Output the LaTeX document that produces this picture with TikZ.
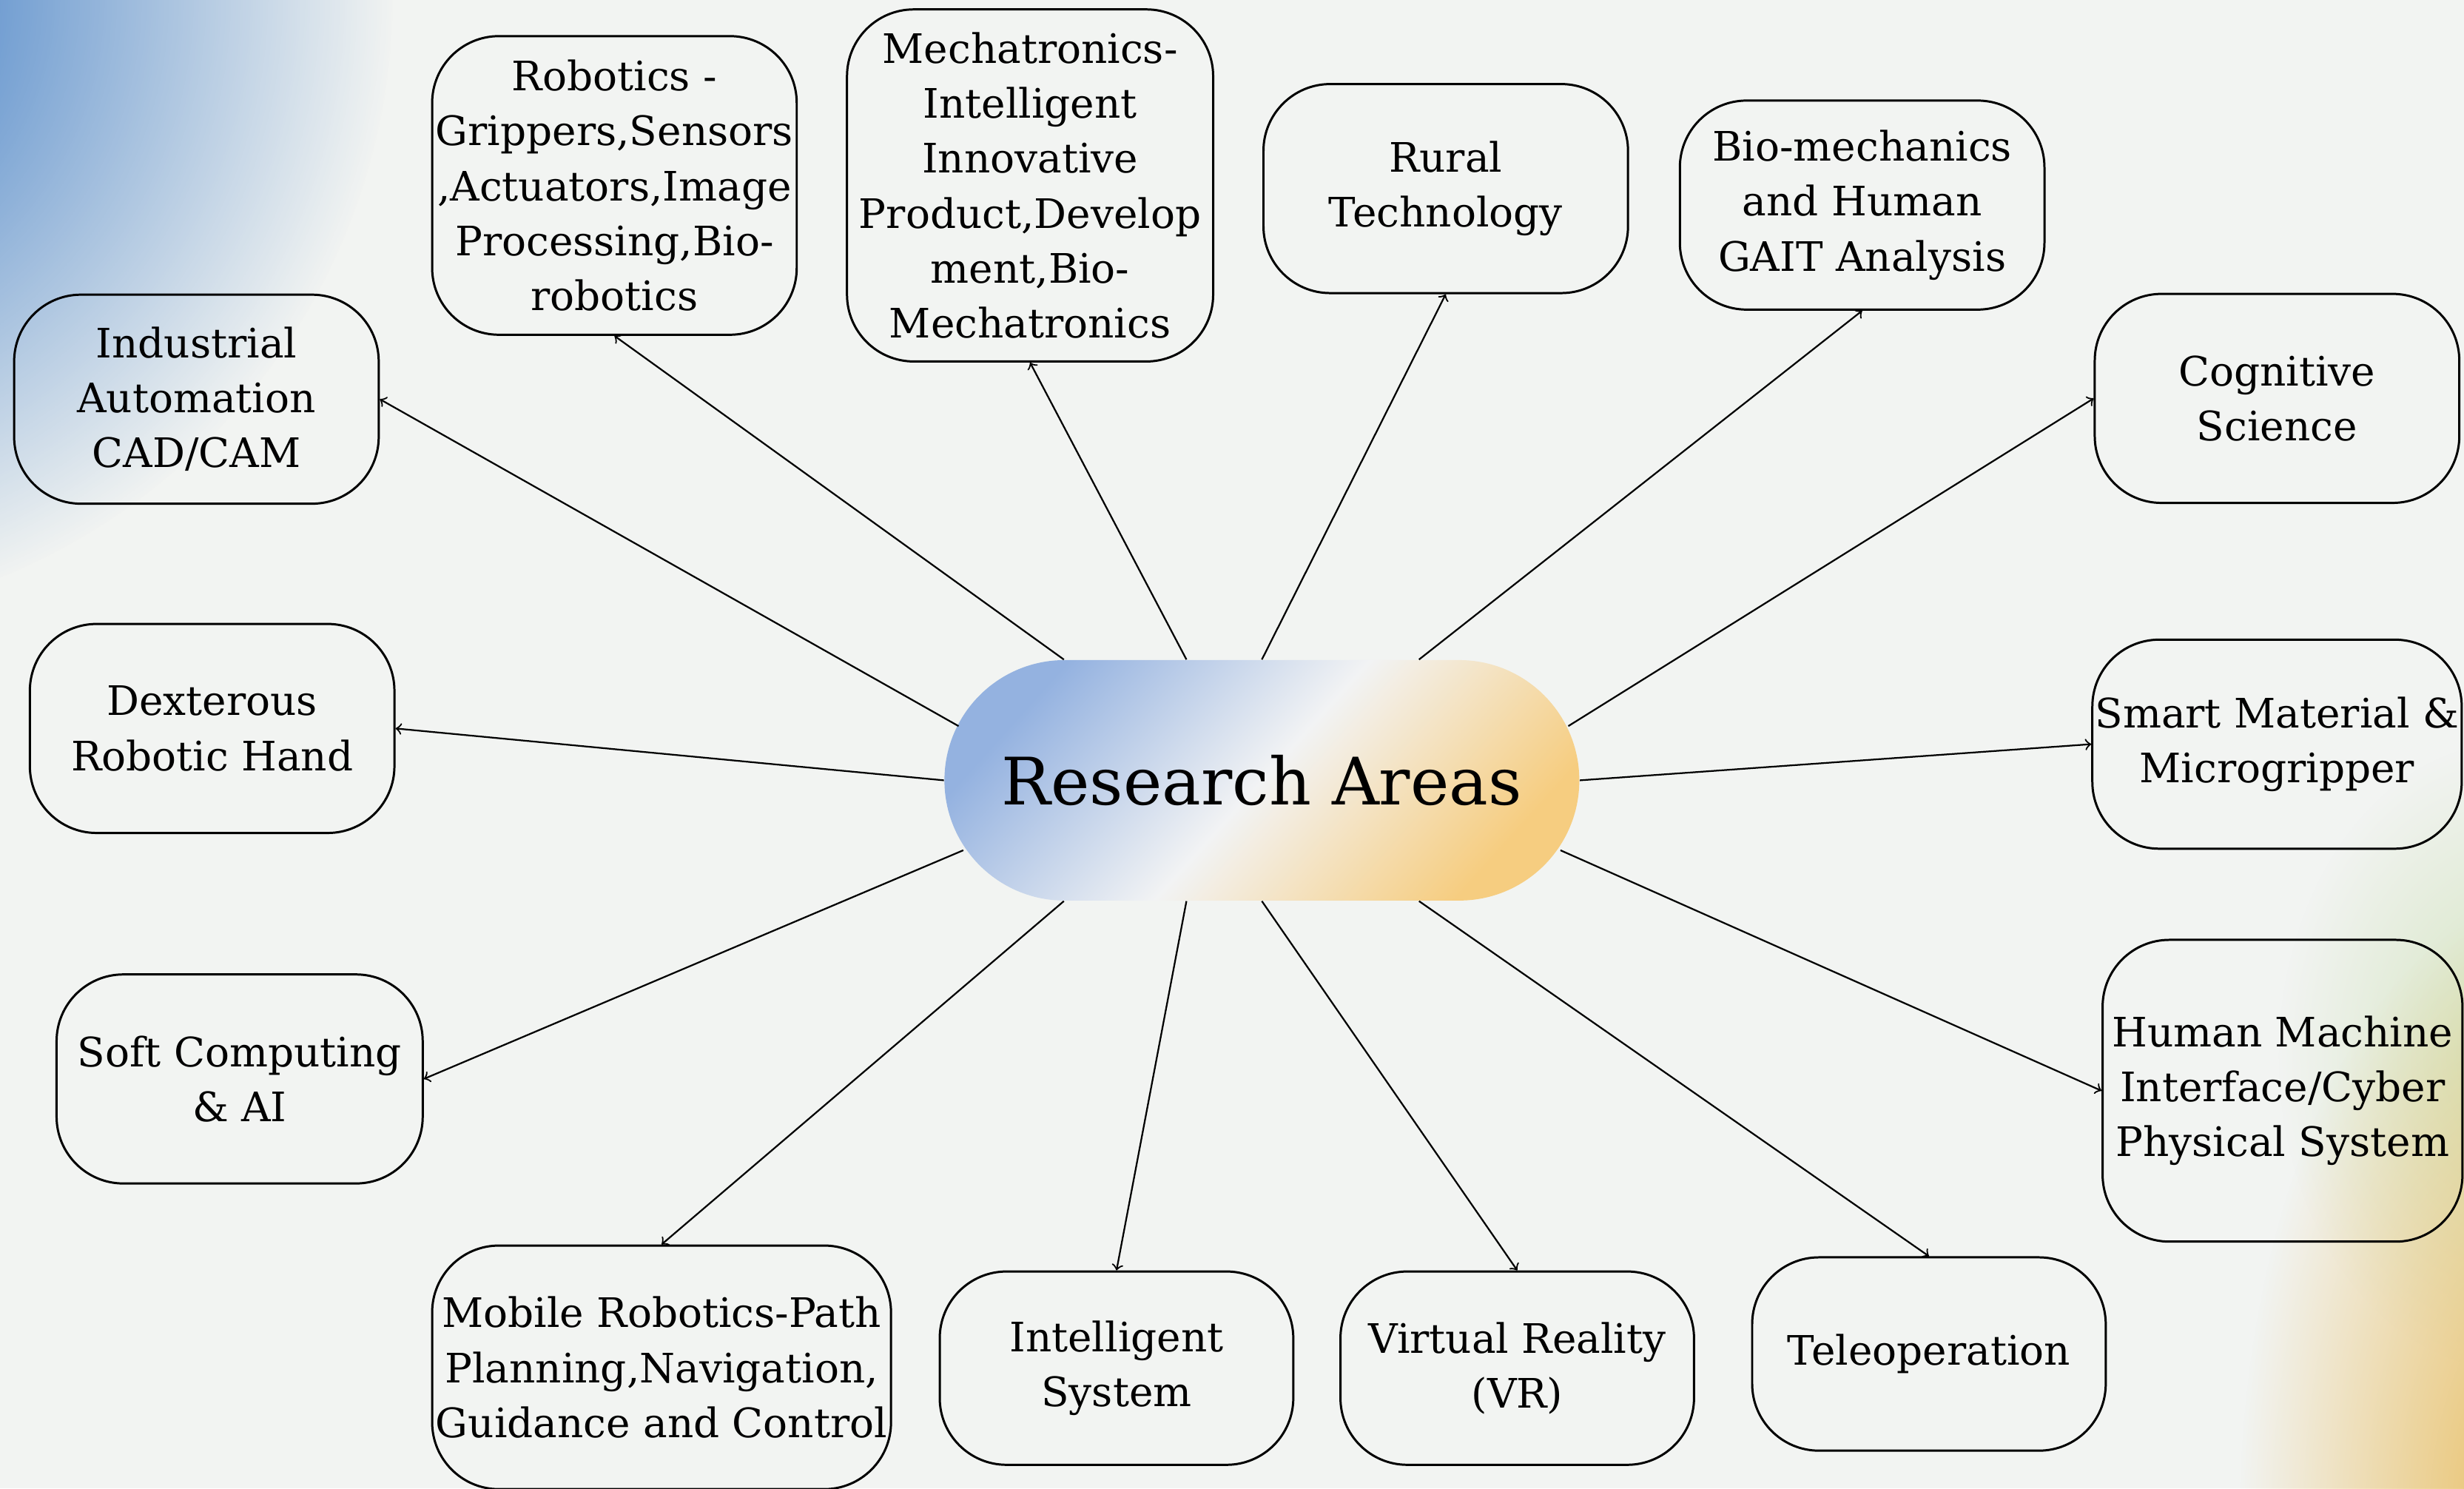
\documentclass[tikz,border=0pt]{standalone}
\usepackage{fontspec}
\setmainfont{DejaVu Serif}
\usetikzlibrary{fadings}

\definecolor{bgcol}{HTML}{F2F4F2}
\definecolor{glowblue}{HTML}{2A6EC0}
\definecolor{glowgreen}{HTML}{D3E4BE}
\definecolor{glowyellow}{HTML}{E8BA57}
\definecolor{rablue}{HTML}{94B2E0}
\definecolor{ramid}{HTML}{F2F3F4}
\definecolor{raorange}{HTML}{F6CD80}

\tikzfading[name=glow, inner color=transparent!0, outer color=transparent!100]

\begin{document}
\begin{tikzpicture}[
  area/.style={draw, line width=0.8pt, rounded corners=0.85cm, align=center,
    inner sep=1pt, minimum width=4.64cm, minimum height=2.66cm,
    font=\fontsize{14.7}{19.9}\selectfont},
  link/.style={->, line width=0.6pt}]
  \useasboundingbox (0,0) rectangle (31.36,18.94);
  \fill[bgcol] (0,0) rectangle (31.36,18.94);
  % soft glows in two corners
  \begin{scope}
    \clip (0,0) rectangle (31.36,18.94);
    \fill[glowblue, path fading=glow] (-3,19) circle (8);
    \fill[glowgreen, path fading=glow] (32,5.5) ellipse (3 and 4);
    \fill[glowyellow, path fading=glow] (32.5,-0.5) ellipse (4 and 8);
  \end{scope}

  \node[rounded corners=1.53cm, minimum width=8.08cm, minimum height=3.06cm,
    top color=rablue, bottom color=raorange, middle color=ramid, shading angle=48,
    font=\fontsize{23.7}{28}\selectfont] (ra) at (16.06,9.01) {Research Areas};

  % upper row
  \node[area] (ind) at (2.50,13.86) {Industrial\\Automation\\CAD/CAM};
  \node[area, minimum height=3.8cm] (rob) at (7.82,16.58)
    {Robotics -\\Grippers,Sensors\\,Actuators,Image\\Processing,Bio-\\robotics};
  \node[area, minimum width=4.66cm, minimum height=4.48cm] (mech) at (13.11,16.58)
    {Mechatronics-\\Intelligent\\Innovative\\Product,Develop\\ment,Bio-\\Mechatronics};
  \node[area] (rural) at (18.40,16.54) {Rural\\Technology};
  \node[area] (bio) at (23.70,16.33) {Bio-mechanics\\and Human\\GAIT Analysis};
  % right side
  \node[area] (cog) at (28.98,13.87) {Cognitive\\Science};
  \node[area] (smart) at (28.98,9.47) {Smart Material \&\\Microgripper};
  \node[area, minimum width=4.58cm, minimum height=3.84cm] (hmi) at (29.05,5.06)
    {Human Machine\\Interface/Cyber\\Physical System};
  % lower row
  \node[area, minimum width=4.5cm, minimum height=2.46cm] (tele) at (24.55,1.71) {Teleoperation};
  \node[area, minimum width=4.5cm, minimum height=2.46cm] (vr) at (19.31,1.53) {Virtual Reality\\(VR)};
  \node[area, minimum width=4.5cm, minimum height=2.46cm] (intel) at (14.21,1.53) {Intelligent\\System};
  \node[area, minimum width=5.84cm, minimum height=3.1cm] (mob) at (8.42,1.54)
    {Mobile Robotics-Path\\Planning,Navigation,\\Guidance and Control};
  % left side
  \node[area, minimum width=4.66cm] (soft) at (3.05,5.21) {Soft Computing\\\& AI};
  \node[area] (dex) at (2.70,9.67) {Dexterous\\Robotic Hand};

  \draw[link] ([shift={(-3.86,0.69)}]ra.center) -- (ind.east);
  \draw[link] ([xshift=-2.52cm]ra.north) -- (rob.south);
  \draw[link] ([xshift=-0.96cm]ra.north) -- (mech.south);
  \draw[link] (ra.north) -- (rural.south);
  \draw[link] ([xshift=2cm]ra.north) -- (bio.south);
  \draw[link] ([shift={(3.9,0.69)}]ra.center) -- (cog.west);
  \draw[link] (ra.east) -- (smart.west);
  \draw[link] ([shift={(3.8,-0.89)}]ra.center) -- (hmi.west);
  \draw[link] ([xshift=2cm]ra.south) -- (tele.north);
  \draw[link] (ra.south) -- (vr.north);
  \draw[link] ([xshift=-0.96cm]ra.south) -- (intel.north);
  \draw[link] ([xshift=-2.52cm]ra.south) -- (mob.north);
  \draw[link] ([shift={(-3.8,-0.89)}]ra.center) -- (soft.east);
  \draw[link] (ra.west) -- (dex.east);
\end{tikzpicture}
\end{document}
